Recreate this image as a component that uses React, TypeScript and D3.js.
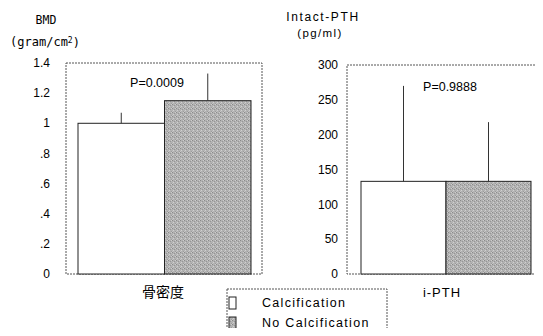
import React, { useEffect, useRef } from 'react';
import * as d3 from 'd3';

// groups shown in legend
const groups = ['Calcification', 'No Calcification'];

// left panel: bone density
const bmdMeans = [1.0, 1.15];
const bmdUpper = [1.07, 1.33];
const bmdTicks = [0, 0.2, 0.4, 0.6, 0.8, 1, 1.2, 1.4];
const bmdTickLabels = ['0', '.2', '.4', '.6', '.8', '1', '1.2', '1.4'];

// right panel: intact PTH
const pthMeans = [133, 133];
const pthUpper = [270, 218];
const pthTicks = [0, 50, 100, 150, 200, 250, 300];

const W = 543;
const H = 336;
const sans = 'Liberation Sans, Arial, sans-serif';

export default function App() {
    const ref = useRef<SVGSVGElement | null>(null);

    useEffect(() => {
        const svg = d3.select(ref.current);
        svg.selectAll('*').remove();

        //grey texture for the second group
        const defs = svg.append('defs');
        const pat = defs.append('pattern')
            .attr('id', 'grain')
            .attr('width', 4).attr('height', 4)
            .attr('patternUnits', 'userSpaceOnUse');
        pat.append('rect').attr('width', 4).attr('height', 4).attr('fill', '#b2b2b2');
        [[0, 0, '#8a8a8a'], [2, 1, '#969696'], [1, 2, '#d0d0d0'], [3, 3, '#9c9c9c'], [3, 0, '#cccccc'], [0, 3, '#c4c4c4']]
            .forEach(([px, py, c]) => {
                pat.append('rect').attr('x', px).attr('y', py).attr('width', 1).attr('height', 1).attr('fill', c as string);
            });

        const panel = (opts: any) => {
            const { x0, x1, top, bottom, max, ticks, tickLabels, means, upper, labelX, pText, pX, pY, cat, catX } = opts;
            const y = d3.scaleLinear().domain([0, max]).range([bottom, top]);
            const x = d3.scaleBand().domain(groups).range([opts.barL, opts.barR]).padding(0);

            //plot frame
            svg.append('rect')
                .attr('x', x0).attr('y', top)
                .attr('width', x1 - x0).attr('height', bottom - top)
                .attr('fill', 'none')
                .attr('stroke', '#555')
                .attr('stroke-width', 1)
                .attr('stroke-dasharray', '2,1');

            //tick labels
            svg.append('g').selectAll('text')
                .data(ticks)
                .enter()
                .append('text')
                .attr('x', labelX)
                .attr('y', (d: number) => y(d))
                .attr('dy', '0.35em')
                .attr('text-anchor', 'end')
                .attr('font-family', sans)
                .attr('font-size', 12)
                .text((d: number, i: number) => tickLabels ? tickLabels[i] : String(d));

            //bars
            svg.append('g').selectAll('rect')
                .data(means)
                .enter()
                .append('rect')
                .attr('x', (d: number, i: number) => x(groups[i]))
                .attr('y', (d: number) => y(d))
                .attr('width', x.bandwidth())
                .attr('height', (d: number) => bottom - y(d))
                .attr('fill', (d: number, i: number) => i === 0 ? '#fff' : 'url(#grain)')
                .attr('stroke', '#222')
                .attr('stroke-width', 1);

            //error lines (upper only)
            svg.append('g').selectAll('line')
                .data(upper)
                .enter()
                .append('line')
                .attr('x1', (d: number, i: number) => x(groups[i]) + x.bandwidth() / 2)
                .attr('x2', (d: number, i: number) => x(groups[i]) + x.bandwidth() / 2)
                .attr('y1', (d: number, i: number) => y(means[i]))
                .attr('y2', (d: number) => y(d))
                .attr('stroke', '#333')
                .attr('stroke-width', 1);

            svg.append('text')
                .attr('x', pX).attr('y', pY)
                .attr('dy', '0.35em')
                .attr('text-anchor', 'middle')
                .attr('font-family', sans)
                .attr('font-size', 12.5)
                .text(pText);

            svg.append('text')
                .attr('x', catX).attr('y', 292)
                .attr('dy', '0.35em')
                .attr('text-anchor', 'middle')
                .attr('font-family', cat === '骨密度' ? 'Noto Sans CJK JP, sans-serif' : sans)
                .attr('font-size', cat === '骨密度' ? 14 : 13)
                .attr('letter-spacing', cat === '骨密度' ? 0 : 1)
                .text(cat);
        };

        panel({
            x0: 66, x1: 262, top: 63, bottom: 274, max: 1.4,
            ticks: bmdTicks, tickLabels: bmdTickLabels,
            means: bmdMeans, upper: bmdUpper,
            barL: 78, barR: 251, labelX: 50,
            pText: 'P=0.0009', pX: 157, pY: 83,
            cat: '骨密度', catX: 163
        });

        panel({
            x0: 347, x1: 540, top: 65, bottom: 274, max: 300,
            ticks: pthTicks, tickLabels: null,
            means: pthMeans, upper: pthUpper,
            barL: 361, barR: 531, labelX: 338,
            pText: 'P=0.9888', pX: 450, pY: 87,
            cat: 'i-PTH', catX: 442
        });

        //axis titles
        const mono = 'DejaVu Sans Mono, monospace';
        svg.append('text').attr('x', 46).attr('y', 20).attr('dy', '0.35em')
            .attr('text-anchor', 'middle').attr('font-family', mono).attr('font-size', 11.5)
            .text('BMD');
        const unit = svg.append('text').attr('x', 45).attr('y', 42).attr('dy', '0.35em')
            .attr('text-anchor', 'middle').attr('font-family', mono).attr('font-size', 12);
        unit.append('tspan').text('(gram/cm');
        unit.append('tspan').attr('font-size', 8).attr('dy', '-0.45em').text('2');
        unit.append('tspan').attr('dy', '0.35em').text(')');

        svg.append('text').attr('x', 323).attr('y', 17).attr('dy', '0.35em')
            .attr('text-anchor', 'middle').attr('font-family', sans).attr('font-size', 12)
            .attr('letter-spacing', 1.6)
            .text('Intact-PTH');
        svg.append('text').attr('x', 320).attr('y', 33).attr('dy', '0.35em')
            .attr('text-anchor', 'middle').attr('font-family', sans).attr('font-size', 11.5)
            .attr('letter-spacing', 1.4)
            .text('(pg/ml)');

        //legend
        const lg = svg.append('g');
        lg.append('rect')
            .attr('x', 227).attr('y', 289).attr('width', 160).attr('height', 45)
            .attr('fill', '#fff')
            .attr('stroke', '#555')
            .attr('stroke-dasharray', '2,1');
        lg.selectAll('g.item')
            .data(groups)
            .enter()
            .append('g')
            .each(function (d: string, i: number) {
                const g = d3.select(this);
                g.append('rect')
                    .attr('x', 229).attr('y', 297 + i * 20)
                    .attr('width', 7).attr('height', 12)
                    .attr('fill', i === 0 ? '#fff' : 'url(#grain)')
                    .attr('stroke', '#222');
                g.append('text')
                    .attr('x', 262).attr('y', 303 + i * 20)
                    .attr('dy', '0.35em')
                    .attr('font-family', sans)
                    .attr('font-size', 12.5)
                    .attr('letter-spacing', 1.3)
                    .text(d);
            });
    }, []);

    return (
        <svg ref={ref} width={W} height={H} style={{ display: 'block', margin: -8 }} />
    );
}
